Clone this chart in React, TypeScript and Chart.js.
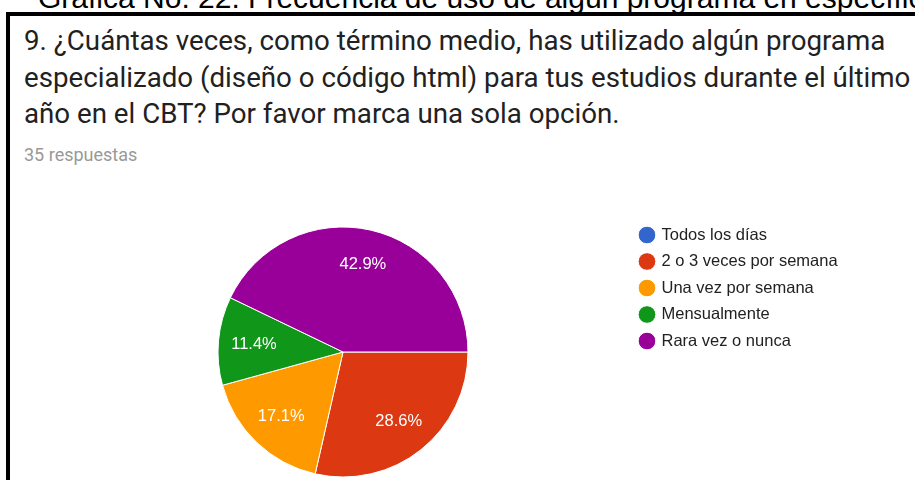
import React, { useEffect, useRef } from "react";
import { Chart, registerables } from "chart.js";

Chart.register(...registerables);

const captionText = "Gráfica No. 22. Frecuencia de uso de algún programa en específico";
const questionLines = [
  "9. ¿Cuántas veces, como término medio, has utilizado algún programa",
  "especializado (diseño o código html) para tus estudios durante el último",
  "año en el CBT? Por favor marca una sola opción.",
];
const responsesText = "35 respuestas";

const categories = [
  "Todos los días",
  "2 o 3 veces por semana",
  "Una vez por semana",
  "Mensualmente",
  "Rara vez o nunca",
];
const counts = [0, 10, 6, 4, 15];
const sliceColors = ["#3366cc", "#dc3912", "#ff9900", "#109618", "#990099"];

const total = counts.reduce((a, b) => a + b, 0);
const percentLabels = counts.map((v) => ((v / total) * 100).toFixed(1) + "%");

const ARIAL = 'Arial, "Liberation Sans", sans-serif';

const sliceLabelPlugin = {
  id: "sliceLabels",
  afterDatasetsDraw(chart: any) {
    const ctx = chart.ctx;
    const meta = chart.getDatasetMeta(0);
    ctx.save();
    ctx.font = `16.5px ${ARIAL}`;
    ctx.fillStyle = "#ffffff";
    ctx.textAlign = "center";
    ctx.textBaseline = "middle";
    meta.data.forEach((arc: any, i: number) => {
      if (!counts[i]) return;
      const p = arc.getProps(["x", "y", "startAngle", "endAngle", "outerRadius"], true);
      const mid = (p.startAngle + p.endAngle) / 2;
      const r = p.outerRadius * 0.715;
      ctx.fillText(percentLabels[i], p.x + Math.cos(mid) * r, p.y + Math.sin(mid) * r);
    });
    ctx.restore();
  },
};

export default function App() {
  const canvasRef = useRef<HTMLCanvasElement | null>(null);

  useEffect(() => {
    if (!canvasRef.current) return;
    const chart = new Chart(canvasRef.current, {
      type: "pie",
      data: {
        labels: categories,
        datasets: [
          {
            data: counts,
            backgroundColor: sliceColors,
            borderColor: "#ffffff",
            borderWidth: 1,
            hoverOffset: 0,
            radius: 125,
          } as any,
        ],
      },
      options: {
        animation: false,
        responsive: false,
        rotation: 90,
        events: [],
        layout: {
          padding: { left: 55.25, top: 216.75, right: 67.4, bottom: 2.75 },
        },
        plugins: {
          tooltip: { enabled: false },
          legend: {
            position: "right",
            align: "start",
            labels: {
              usePointStyle: true,
              boxWidth: 12.5,
              boxHeight: 12.5,
              padding: 10,
              color: "#222222",
              font: { family: ARIAL, size: 16.5 },
            },
          },
        },
      } as any,
      plugins: [sliceLabelPlugin],
    });
    return () => chart.destroy();
  }, []);

  return (
    <div
      style={{
        position: "absolute",
        left: 0,
        top: 0,
        width: 915,
        height: 480,
        overflow: "hidden",
        background: "#ffffff",
      }}
    >
      <div
        style={{
          position: "absolute",
          left: 38,
          top: -17,
          font: `30px ${ARIAL}`,
          lineHeight: "30px",
          whiteSpace: "nowrap",
          color: "#000",
        }}
      >
        {captionText}
      </div>
      <div
        style={{
          position: "absolute",
          left: 6,
          top: 12,
          width: 1000,
          height: 600,
          borderLeft: "4px solid #000",
          borderTop: "4px solid #000",
          background: "#fff",
        }}
      />
      <div
        style={{
          position: "absolute",
          left: 24,
          top: 23,
          fontFamily: "Roboto, sans-serif",
          fontSize: 27.7,
          lineHeight: "36.5px",
          color: "#212121",
          whiteSpace: "nowrap",
        }}
      >
        {questionLines.map((l, i) => (
          <div key={i}>{l}</div>
        ))}
      </div>
      <div
        style={{
          position: "absolute",
          left: 24,
          top: 145,
          fontFamily: "Roboto, sans-serif",
          fontSize: 18,
          lineHeight: "20px",
          color: "#999999",
          whiteSpace: "nowrap",
        }}
      >
        {responsesText}
      </div>
      <canvas
        ref={canvasRef}
        width={915}
        height={490}
        style={{ position: "absolute", left: 0, top: 0, width: 915, height: 490 }}
      />
    </div>
  );
}
